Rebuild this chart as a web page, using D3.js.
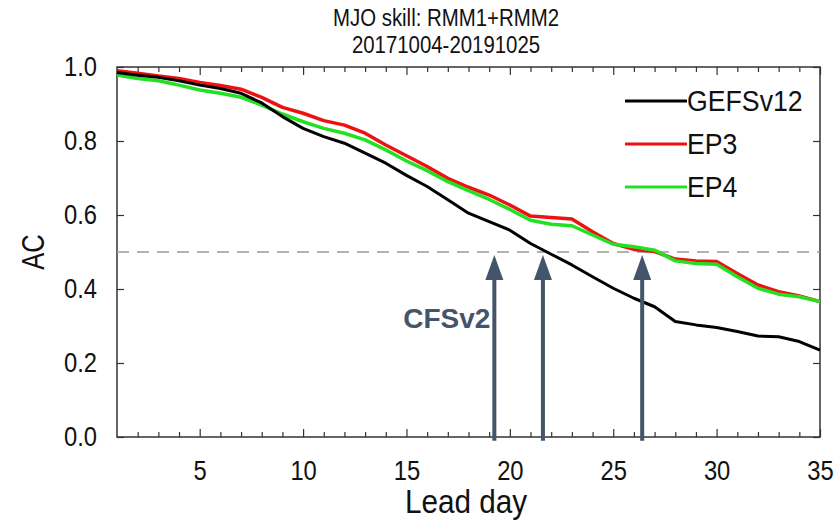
<!DOCTYPE html>
<head>
<style>
  body { margin: 0; background: #fff; }
  text { font-family: "Liberation Sans", Arial, Helvetica, sans-serif; fill: #111; }
  .frame { fill: none; stroke: #333; stroke-width: 1.5; }
  .tick line { stroke: #333; stroke-width: 1.2; }
</style>
</head>
<body>
<script src="https://d3js.org/d3.v7.min.js"></script>
<script>

// lead days 1..35
var days = d3.range(1, 36);

var gefs = [0.985, 0.978, 0.972, 0.963, 0.951, 0.942, 0.929, 0.903, 0.866, 0.834,
            0.812, 0.794, 0.767, 0.740, 0.707, 0.677, 0.641, 0.605, 0.582, 0.559,
            0.523, 0.494, 0.465, 0.433, 0.402, 0.375, 0.352, 0.312, 0.303, 0.296,
            0.285, 0.273, 0.271, 0.258, 0.235];
var ep3  = [0.990, 0.983, 0.976, 0.969, 0.958, 0.950, 0.940, 0.918, 0.891, 0.875,
            0.855, 0.843, 0.821, 0.789, 0.760, 0.731, 0.699, 0.675, 0.654, 0.627,
            0.597, 0.593, 0.589, 0.555, 0.523, 0.507, 0.501, 0.481, 0.476, 0.474,
            0.442, 0.411, 0.393, 0.381, 0.366];
var ep4  = [0.978, 0.969, 0.963, 0.951, 0.938, 0.929, 0.918, 0.897, 0.873, 0.852,
            0.834, 0.821, 0.803, 0.776, 0.746, 0.720, 0.690, 0.666, 0.642, 0.615,
            0.586, 0.575, 0.571, 0.546, 0.521, 0.514, 0.505, 0.476, 0.469, 0.467,
            0.433, 0.402, 0.386, 0.379, 0.366];

var seriesNames = ["GEFSv12", "EP3", "EP4"];
var xTicks = [5, 10, 15, 20, 25, 30, 35];
var yTicks = [0, 0.2, 0.4, 0.6, 0.8, 1.0];
var refLevel = 0.5;
var arrowDays = [19.25, 21.6, 26.4];   // where each model drops below 0.5
var arrowLabel = "CFSv2";

var margin = {top: 67, right: 14, bottom: 85, left: 117},
    width = 834 - margin.left - margin.right,
    height = 522 - margin.top - margin.bottom;

var x = d3.scaleLinear().domain([1, 35]).range([0, width]);
var y = d3.scaleLinear().domain([0, 1]).range([height, 0]);

var colors = {GEFSv12: "#000000", EP3: "#ee1111", EP4: "#22e022"};

var svg = d3.select("body").append("svg")
    .attr("width", 834)
    .attr("height", 522);

var g = svg.append("g")
    .attr("transform", "translate(" + margin.left + "," + margin.top + ")");

// the original uses a narrow helvetica, so squeeze text horizontally
function label(parent, tx, ty, size, sx, txt, rot) {
  return parent.append("text")
      .attr("transform", "translate(" + tx + "," + ty + ")" + (rot ? " rotate(" + rot + ")" : "") + " scale(" + sx + ",1)")
      .attr("text-anchor", "middle")
      .style("font-size", size + "px")
      .text(txt);
}

// title
label(svg, 446, 26, 24, 0.85, "MJO skill: RMM1+RMM2");
label(svg, 446, 53, 24, 0.85, "20171004-20191025");

// minor + major ticks, inward on all four sides
var minorDays = days.filter(function(d) { return d > 1 && d < 35 && d % 5 != 0; });
var tsx = 0.88;

g.append("g")
    .attr("transform", "translate(0," + height + ")")
    .call(d3.axisBottom(x).tickValues(minorDays).tickSize(-5).tickFormat(""))
    .call(function(s) { s.select(".domain").remove(); });
g.append("g").attr("class", "x axis")
    .attr("transform", "translate(0," + height + ")")
    .call(d3.axisBottom(x).tickValues(xTicks).tickSize(-8))
    .call(function(s) {
      s.select(".domain").remove();
      s.selectAll("text").style("font-size", "27px")
        .attr("y", 43).attr("dy", 0)
        .attr("transform", "scale(" + tsx + ",1)");
    });
g.append("g")
    .call(d3.axisTop(x).tickValues(minorDays).tickSize(-5).tickFormat(""))
    .call(function(s) { s.select(".domain").remove(); });
g.append("g")
    .call(d3.axisTop(x).tickValues(xTicks).tickSize(-8).tickFormat(""))
    .call(function(s) { s.select(".domain").remove(); });

g.append("g").attr("class", "y axis")
    .call(d3.axisLeft(y).tickValues(yTicks).tickSize(-7).tickFormat(d3.format(".1f")))
    .call(function(s) {
      s.select(".domain").remove();
      s.selectAll("text").style("font-size", "27px")
        .attr("x", -20 / tsx)
        .attr("transform", "scale(" + tsx + ",1)");
    });
g.append("g")
    .attr("transform", "translate(" + width + ",0)")
    .call(d3.axisRight(y).tickValues(yTicks).tickSize(-7).tickFormat(""))
    .call(function(s) { s.select(".domain").remove(); });

g.append("rect").attr("class", "frame")
    .attr("x", 0).attr("y", 0)
    .attr("width", width).attr("height", height);

// axis titles
label(svg, 466, 513, 33, 0.9, "Lead day");
label(svg, 44, margin.top + y(0.5), 31, 0.82, "AC", -90);

// 0.5 reference
g.append("line")
    .attr("x1", 0).attr("x2", width)
    .attr("y1", y(refLevel)).attr("y2", y(refLevel))
    .style("stroke", "#999")
    .style("stroke-width", 1.3)
    .style("stroke-dasharray", "12,8");

// lines
var line = d3.line()
    .x(function(d, i) { return x(days[i]); })
    .y(function(d) { return y(d); });

var series = [
  {name: "EP3", values: ep3},
  {name: "EP4", values: ep4},
  {name: "GEFSv12", values: gefs}
];

g.selectAll(".series")
    .data(series)
    .enter().append("path")
    .attr("class", "series")
    .attr("d", function(d) { return line(d.values); })
    .style("fill", "none")
    .style("stroke", function(d) { return colors[d.name]; })
    .style("stroke-width", function(d) { return d.name == "GEFSv12" ? 3 : 3.5; })
    .style("stroke-linejoin", "round");

// legend
var legend = g.selectAll(".legend")
    .data(seriesNames)
    .enter().append("g")
    .attr("class", "legend")
    .attr("transform", function(d, i) { return "translate(508," + (34 + i * 43) + ")"; });
legend.append("line")
    .attr("x1", 0).attr("x2", 62)
    .style("stroke", function(d) { return colors[d]; })
    .style("stroke-width", 3);
legend.append("text")
    .attr("transform", "translate(62,10) scale(0.92,1)")
    .style("font-size", "29px")
    .text(function(d) { return d; });

// arrows
var arrowColor = "#44546a";
var arrows = g.selectAll(".arrow")
    .data(arrowDays)
    .enter().append("g")
    .attr("class", "arrow");
arrows.append("line")
    .attr("x1", function(d) { return x(d); })
    .attr("x2", function(d) { return x(d); })
    .attr("y1", y(-0.01))
    .attr("y2", y(refLevel) + 20)
    .style("stroke", arrowColor)
    .style("stroke-width", 4);
arrows.append("path")
    .attr("d", function(d) {
      var cx = x(d), ty = y(refLevel) + 3;
      return "M" + cx + "," + ty + "L" + (cx + 9) + "," + (ty + 25) + "L" + (cx - 9) + "," + (ty + 25) + "Z";
    })
    .style("fill", arrowColor);

g.append("text")
    .attr("x", x(arrowDays[0]) - 4).attr("y", 261)
    .attr("text-anchor", "end")
    .style("font-weight", "bold")
    .style("font-size", "28px")
    .style("fill", arrowColor)
    .text(arrowLabel);

</script>
</body>
